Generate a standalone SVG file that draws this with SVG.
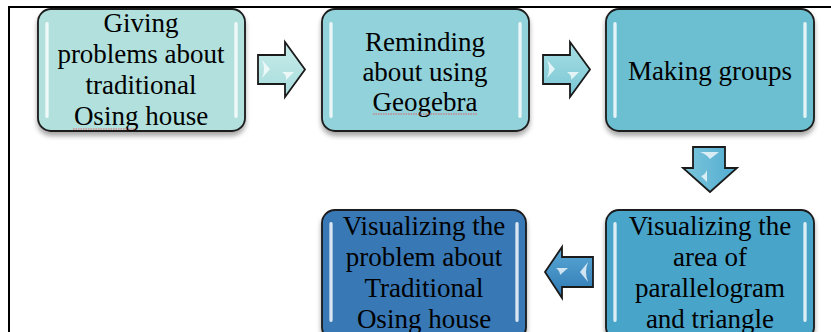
<svg xmlns="http://www.w3.org/2000/svg" width="831" height="332" viewBox="0 0 831 332">
<defs>
<filter id="sh" x="-10%" y="-10%" width="120%" height="130%">
<feGaussianBlur in="SourceAlpha" stdDeviation="2.5"/>
<feOffset dy="4" result="b"/>
<feComponentTransfer><feFuncA type="linear" slope="0.35"/></feComponentTransfer>
<feMerge><feMergeNode/><feMergeNode in="SourceGraphic"/></feMerge>
</filter>
<linearGradient id="gl" x1="0" y1="0" x2="1" y2="0">
<stop offset="0" stop-color="#ffffff" stop-opacity="0.4"/>
<stop offset="0.5" stop-color="#ffffff" stop-opacity="0.95"/>
<stop offset="1" stop-color="#ffffff" stop-opacity="0.4"/>
</linearGradient>
<linearGradient id="a1" x1="0" y1="0" x2="0" y2="1"><stop offset="0" stop-color="#c8ecea"/><stop offset="1" stop-color="#a6dcdc"/></linearGradient>
<linearGradient id="a2" x1="0" y1="0" x2="0" y2="1"><stop offset="0" stop-color="#a9dfe4"/><stop offset="1" stop-color="#78c6d4"/></linearGradient>
<linearGradient id="a3" x1="0" y1="0" x2="1" y2="0"><stop offset="0" stop-color="#7cc6dc"/><stop offset="1" stop-color="#52acd0"/></linearGradient>
<linearGradient id="a4" x1="0" y1="0" x2="0" y2="1"><stop offset="0" stop-color="#5aa9d6"/><stop offset="1" stop-color="#2f78b3"/></linearGradient>
</defs>
<style>
.box{stroke:#1a1a1a;stroke-width:1.8}
.arr{stroke:#1a1a1a;stroke-width:1.8;stroke-linejoin:miter}
.gloss{fill:url(#gl)}
.hl{fill:#ffffff;opacity:0.75}
text{font-family:"Liberation Serif","Times New Roman",serif;font-size:27px;fill:#000;text-anchor:middle}
.sq{fill:none;stroke:#e06060;stroke-width:1;stroke-dasharray:1.5 1}
.frame{stroke:#000;stroke-width:2;fill:none}
</style>
<path class="frame" d="M9,332 V7 H831"/>
<g id="n1">
<rect class="box" x="38" y="9" width="207" height="122" rx="13" fill="#b1e0dd" filter="url(#sh)"/>
<rect class="gloss" x="45" y="22" width="4" height="96" rx="2"/>
<rect class="gloss" x="234" y="22" width="4" height="96" rx="2"/>
<text x="141" y="32">Giving</text>
<text x="141" y="63">problems about</text>
<text x="141" y="94">traditional</text>
<text x="141" y="125">Osing house</text>
<path class="sq" d="M73,129 H135"/>
</g>
<g id="n2">
<rect class="box" x="322" y="9" width="207" height="122" rx="13" fill="#92d2da" filter="url(#sh)"/>
<rect class="gloss" x="329" y="22" width="4" height="96" rx="2"/>
<rect class="gloss" x="518" y="22" width="4" height="96" rx="2"/>
<text x="425" y="51">Reminding</text>
<text x="425" y="81">about using</text>
<text x="425" y="111">Geogebra</text>
<path class="sq" d="M373,114 H478"/>
</g>
<g id="n3">
<rect class="box" x="606" y="9" width="208" height="122" rx="13" fill="#6cbfd1" filter="url(#sh)"/>
<rect class="gloss" x="613" y="22" width="4" height="96" rx="2"/>
<rect class="gloss" x="803" y="22" width="4" height="96" rx="2"/>
<text x="710" y="80">Making groups</text>
</g>
<g id="n4">
<rect class="box" x="606" y="210" width="208" height="130" rx="13" fill="#4aa4ca" filter="url(#sh)"/>
<rect class="gloss" x="613" y="222" width="4" height="100" rx="2"/>
<rect class="gloss" x="803" y="222" width="4" height="100" rx="2"/>
<text x="710" y="235">Visualizing the</text>
<text x="710" y="266">area of</text>
<text x="710" y="297">parallelogram</text>
<text x="710" y="328">and triangle</text>
</g>
<g id="n5">
<rect class="box" x="322" y="210" width="204" height="130" rx="13" fill="#3878b5" filter="url(#sh)"/>
<rect class="gloss" x="329" y="222" width="4" height="100" rx="2"/>
<rect class="gloss" x="515" y="222" width="4" height="100" rx="2"/>
<text x="424" y="235">Visualizing the</text>
<text x="424" y="266">problem about</text>
<text x="424" y="297">Traditional</text>
<text x="424" y="328">Osing house</text>
</g>
<g id="connectors">
<polygon class="arr" fill="url(#a1)" points="258,55 285,55 285,42 305,69.5 285,97 285,84 258,84"/>
<path class="hl" d="M262,60 L270,69 L262,78 Q266,69 262,60Z"/>
<path class="hl" d="M282,72 L294,72 L286,80 Q287,75 282,72Z"/>
<polygon class="arr" fill="url(#a2)" points="543,55 570,55 570,42 590,69.5 570,97 570,84 543,84"/>
<path class="hl" d="M547,60 L555,69 L547,78 Q551,69 547,60Z"/>
<path class="hl" d="M567,72 L579,72 L571,80 Q572,75 567,72Z"/>
<polygon class="arr" fill="url(#a3)" points="693,147 725,147 725,168 737,168 710,192 683,168 693,168"/>
<path class="hl" d="M700,152 L719,152 L710,159 Q706,154 700,152Z"/>
<path class="hl" d="M707,170 L707,182 L701,176 Q705,175 707,170Z"/>
<polygon class="arr" fill="url(#a4)" points="593,257 562,257 562,247 545,272 562,298 562,287 593,287"/>
<path class="hl" d="M588,262 L580,272 L588,282 Q584,272 588,262Z"/>
<path class="hl" d="M556,268 L568,268 L560,275 Q560,271 556,268Z"/>
</g>
</svg>
